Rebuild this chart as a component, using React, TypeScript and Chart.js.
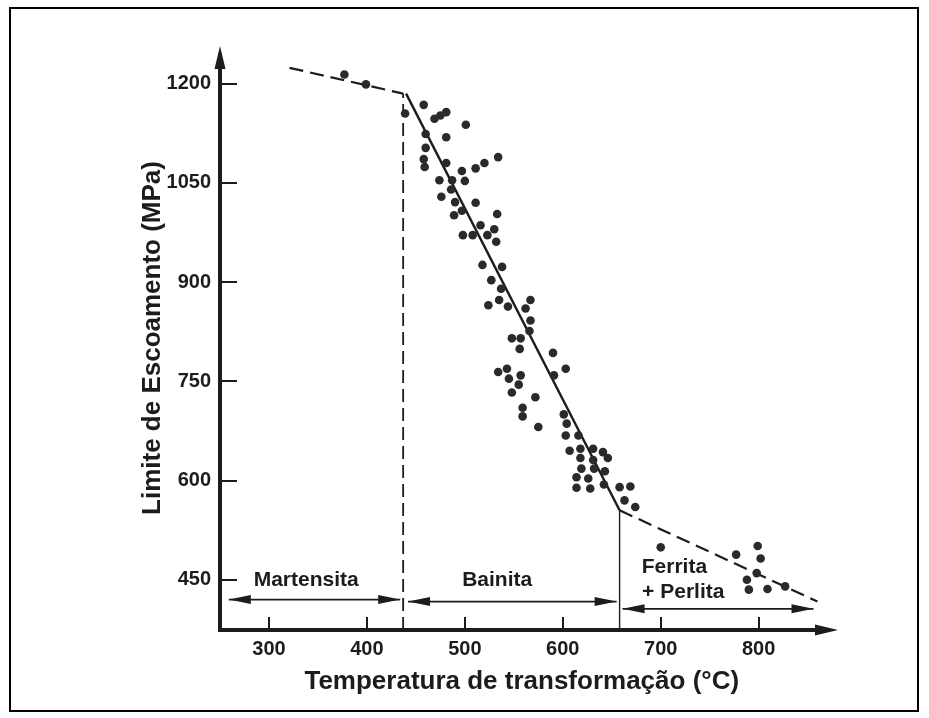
import React, { useEffect, useRef } from 'react';
import { Chart, registerables } from 'chart.js';
Chart.register(...registerables);

const tempC = [377, 399, 439, 458, 469, 475, 481, 481, 460, 501, 460, 458, 459, 481, 474, 487, 500, 497, 511, 520, 534, 476, 486, 490, 497, 489, 511, 533, 516, 530, 498, 508, 523, 532, 518, 538, 527, 537, 535, 524, 544, 567, 562, 567, 566, 548, 557, 556, 590, 603, 591, 534, 543, 545, 557, 555, 548, 572, 559, 559, 575, 601, 604, 603, 616, 607, 618, 631, 641, 646, 618, 631, 619, 632, 643, 614, 626, 614, 628, 642, 658, 669, 663, 674, 700, 777, 799, 802, 798, 788, 790, 809, 827];
const yieldMPa = [1214, 1199, 1155, 1168, 1147, 1152, 1157, 1119, 1124, 1138, 1103, 1086, 1074, 1080, 1054, 1054, 1053, 1068, 1072, 1080, 1089, 1029, 1040, 1021, 1008, 1001, 1020, 1003, 986, 980, 971, 971, 971, 961, 926, 923, 903, 890, 873, 865, 863, 873, 860, 842, 826, 815, 815, 799, 793, 769, 759, 764, 769, 754, 759, 745, 733, 726, 710, 697, 681, 700, 686, 668, 668, 645, 648, 648, 643, 634, 634, 631, 618, 618, 614, 605, 603, 589, 588, 594, 590, 591, 570, 560, 499, 488, 501, 482, 460, 450, 435, 436, 440];

const xTicks = [300, 400, 500, 600, 700, 800];
const yTicks = [450, 600, 750, 900, 1050, 1200];

const upperDashX = [321, 437];
const upperDashY = [1224, 1185];
const bainiteLineX = [440, 658];
const bainiteLineY = [1185, 555];
const ferriteDashX = [658, 860];
const ferriteDashY = [555, 417];
const martBoundaryX = [437, 437];
const martBoundaryY = [374, 1185];
const bainBoundaryX = [658, 658];
const bainBoundaryY = [374, 555];

const regionNames = ['Martensita', 'Bainita', 'Ferrita', '+ Perlita'];
const regionLabelX = [338, 533, 714, 723];
const regionLabelY = [450, 450, 469, 431];
const regionArrowStart = [259, 442, 661];
const regionArrowEnd = [434, 655, 856];
const regionArrowY = [420, 417, 406];

const FONT = '"Liberation Sans", Arial, Helvetica, sans-serif';
const INK = '#1c1c1c';

function pts(xs: number[], ys: number[]) {
  return xs.map((x, i) => ({ x, y: ys[i] }));
}

function arrowHead(ctx: CanvasRenderingContext2D, tx: number, ty: number, dx: number, dy: number, len: number, hw: number) {
  const bx = tx - dx * len;
  const by = ty - dy * len;
  const px = -dy, py = dx;
  ctx.beginPath();
  ctx.moveTo(tx, ty);
  ctx.lineTo(bx + px * hw, by + py * hw);
  ctx.lineTo(bx - px * hw, by - py * hw);
  ctx.closePath();
  ctx.fill();
}

const decorPlugin = {
  id: 'decor',
  afterDatasetsDraw(chart: any) {
    const ctx: CanvasRenderingContext2D = chart.ctx;
    const xs = chart.scales.x;
    const ys = chart.scales.y;
    const area = chart.chartArea;
    ctx.save();
    ctx.fillStyle = INK;
    ctx.strokeStyle = INK;

    // region arrow heads
    for (let i = 0; i < regionArrowStart.length; i++) {
      const y = ys.getPixelForValue(regionArrowY[i]);
      const a = xs.getPixelForValue(regionArrowStart[i]);
      const b = xs.getPixelForValue(regionArrowEnd[i]);
      arrowHead(ctx, a, y, -1, 0, 22, 4.5);
      arrowHead(ctx, b, y, 1, 0, 22, 4.5);
    }

    // region labels
    ctx.font = 'bold 21px ' + FONT;
    ctx.textAlign = 'center';
    ctx.textBaseline = 'middle';
    for (let i = 0; i < regionNames.length; i++) {
      ctx.fillText(regionNames[i], xs.getPixelForValue(regionLabelX[i]), ys.getPixelForValue(regionLabelY[i]));
    }

    // axes lines
    ctx.lineWidth = 4;
    ctx.beginPath();
    ctx.moveTo(area.left, area.bottom + 2);
    ctx.lineTo(area.left, area.top + 12);
    ctx.moveTo(area.left - 2, area.bottom);
    ctx.lineTo(area.right - 12, area.bottom);
    ctx.stroke();
    arrowHead(ctx, area.left, area.top, 0, -1, 23, 5.5);
    arrowHead(ctx, area.right, area.bottom, 1, 0, 23, 5.5);

    // inward ticks
    ctx.lineWidth = 2;
    ctx.beginPath();
    for (const v of yTicks) {
      const y = Math.round(ys.getPixelForValue(v));
      ctx.moveTo(area.left, y);
      ctx.lineTo(area.left + 17, y);
    }
    for (const v of xTicks) {
      const x = Math.round(xs.getPixelForValue(v));
      ctx.moveTo(x, area.bottom);
      ctx.lineTo(x, area.bottom - 13);
    }
    ctx.stroke();

    // frame
    ctx.lineWidth = 2;
    ctx.strokeStyle = '#000';
    ctx.strokeRect(10, 8, 908, 703);
    ctx.restore();
  },
};

export default function App() {
  const ref = useRef<HTMLCanvasElement>(null);
  useEffect(() => {
    document.body.style.margin = '0';
    const canvas = ref.current;
    if (!canvas) return;
    const lineDs = (xs: number[], ys: number[], width: number, dash: number[]) => ({
      type: 'line' as const,
      data: pts(xs, ys),
      showLine: true,
      borderColor: INK,
      borderWidth: width,
      borderDash: dash,
      pointRadius: 0,
      fill: false,
      tension: 0,
    });
    const chart = new Chart(canvas, {
      type: 'scatter',
      data: {
        datasets: [
          {
            type: 'scatter',
            data: pts(tempC, yieldMPa),
            pointRadius: 4.3,
            pointBackgroundColor: '#2a2a2a',
            pointBorderColor: '#2a2a2a',
            pointBorderWidth: 0,
          } as any,
          lineDs(upperDashX, upperDashY, 2.2, [14, 7]),
          lineDs(bainiteLineX, bainiteLineY, 2.4, []),
          lineDs(ferriteDashX, ferriteDashY, 2.2, [14, 7]),
          lineDs(martBoundaryX, martBoundaryY, 1.8, [13, 6]),
          lineDs(bainBoundaryX, bainBoundaryY, 1.4, []),
          ...regionArrowStart.map((s, i) =>
            lineDs([s, regionArrowEnd[i]], [regionArrowY[i], regionArrowY[i]], 1.8, [])
          ),
        ] as any,
      },
      options: {
        animation: false,
        responsive: false,
        maintainAspectRatio: false,
        layout: { padding: { top: 46, right: 91, left: 0, bottom: 0 } },
        plugins: { legend: { display: false }, tooltip: { enabled: false } },
        scales: {
          x: {
            type: 'linear',
            min: 250,
            max: 881,
            afterBuildTicks: (s: any) => {
              s.ticks = xTicks.map((v) => ({ value: v }));
            },
            afterFit: (s: any) => {
              s.height = 88;
            },
            grid: { display: false, drawTicks: false },
            border: { display: false },
            ticks: {
              padding: 7,
              maxRotation: 0,
              autoSkip: false,
              color: INK,
              font: { family: FONT, size: 20, weight: 'bold' },
              callback: (v: any) => String(v),
            },
            title: {
              display: true,
              text: 'Temperatura de transformação (°C)\u00a0\u00a0',
              color: INK,
              font: { family: FONT, size: 26, weight: 'bold' },
              padding: { top: 0, bottom: 21 },
            },
          },
          y: {
            type: 'linear',
            min: 374,
            max: 1257,
            afterBuildTicks: (s: any) => {
              s.ticks = yTicks.map((v) => ({ value: v }));
            },
            afterFit: (s: any) => {
              s.width = 220;
            },
            grid: { display: false, drawTicks: false },
            border: { display: false },
            ticks: {
              padding: 9,
              autoSkip: false,
              color: INK,
              font: { family: FONT, size: 20, weight: 'bold' },
              callback: (v: any) => String(v),
            },
            title: {
              display: true,
              text: 'Limite de Escoamento (MPa)',
              color: INK,
              font: { family: FONT, size: 26, weight: 'bold' },
              padding: { top: 137, bottom: 0 },
            },
          },
        },
      } as any,
      plugins: [decorPlugin],
    });
    return () => chart.destroy();
  }, []);
  return (
    <div style={{ width: 929, height: 718, background: '#fff' }}>
      <canvas ref={ref} width={929} height={718} style={{ display: 'block' }} />
    </div>
  );
}
